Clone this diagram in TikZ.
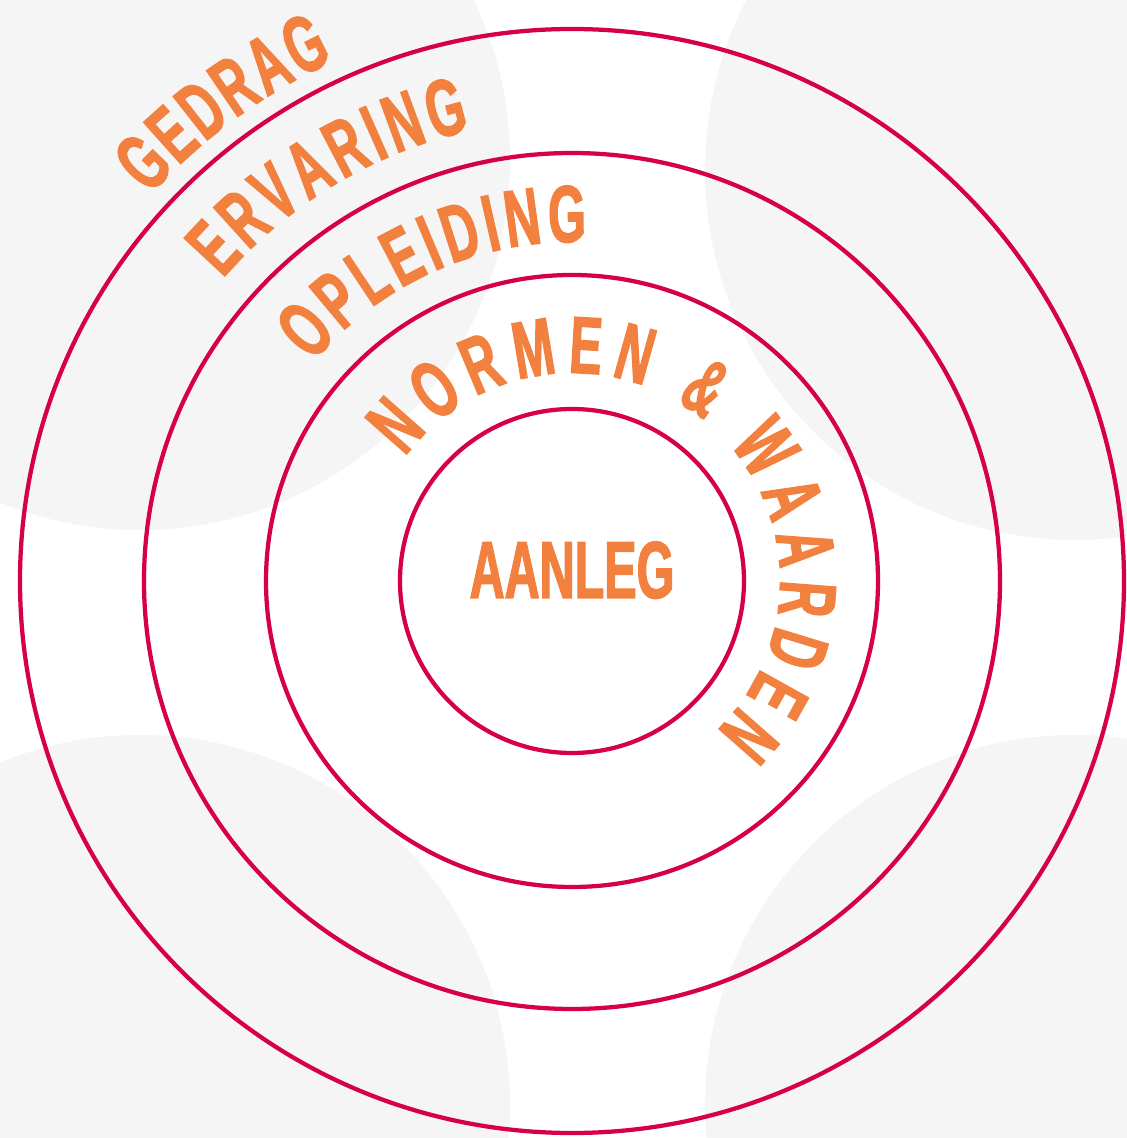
\documentclass[tikz,border=0pt]{standalone}
\usepackage{fontspec}
\usetikzlibrary{decorations.text}
\newfontfamily\labelfont[FakeStretch=0.6,FakeBold=1.6,UprightFont=* Bold]{Liberation Sans}
\definecolor{ringred}{RGB}{214,0,68}
\definecolor{labelorange}{RGB}{242,128,62}
\definecolor{backgray}{RGB}{245,245,245}

\begin{document}
\begin{tikzpicture}[x=0.2mm,y=0.2mm,line width=0.85mm,
  ring/.style={draw=ringred},
  ringtext/.style={decorate,decoration={text along path,text align=fit to path,
    text={|\labelfont\fontsize{46}{46}\selectfont\color{labelorange}|#1}}}]
  \useasboundingbox (0,0) rectangle (1127,1138);
  % Pale discs behind the rings, cut off at the page edge.
  \begin{scope}
    \clip (0,0) rectangle (1127,1138);
    \fill[backgray] (140,978) circle (370);
    \fill[backgray] (1075,968) circle (370);
    \fill[backgray] (140,33) circle (370);
    \fill[backgray] (1075,33) circle (370);
  \end{scope}
  % Common centre of the four rings.
  \coordinate (C) at (572,557);
  \draw[ring] (C) circle (552);
  \draw[ring] (C) circle (428);
  \draw[ring] (C) circle (306);
  \draw[ring] (C) circle (172);
  % Label in the middle.
  \node[anchor=base,inner sep=0pt,text=labelorange,
    font=\labelfont\fontsize{46}{46}\selectfont] (core) at (572,540) {AANLEG};
  % Labels bent along the rings, read clockwise.
  \path[ringtext=GEDRAG] (C) ++(137.6:572) arc[start angle=137.6,end angle=114.6,radius=572];
  \path[ringtext=ERVARING] (C) ++(139.1:462) arc[start angle=139.1,end angle=102.7,radius=462];
  \path[ringtext=OPLEIDING] (C) ++(139.9:339) arc[start angle=139.9,end angle=87.6,radius=339];
  \path[ringtext=NORMEN {\&} WAARDEN] (C) ++(143.4:208) arc[start angle=143.4,end angle=-46.1,radius=208];
\end{tikzpicture}
\end{document}
